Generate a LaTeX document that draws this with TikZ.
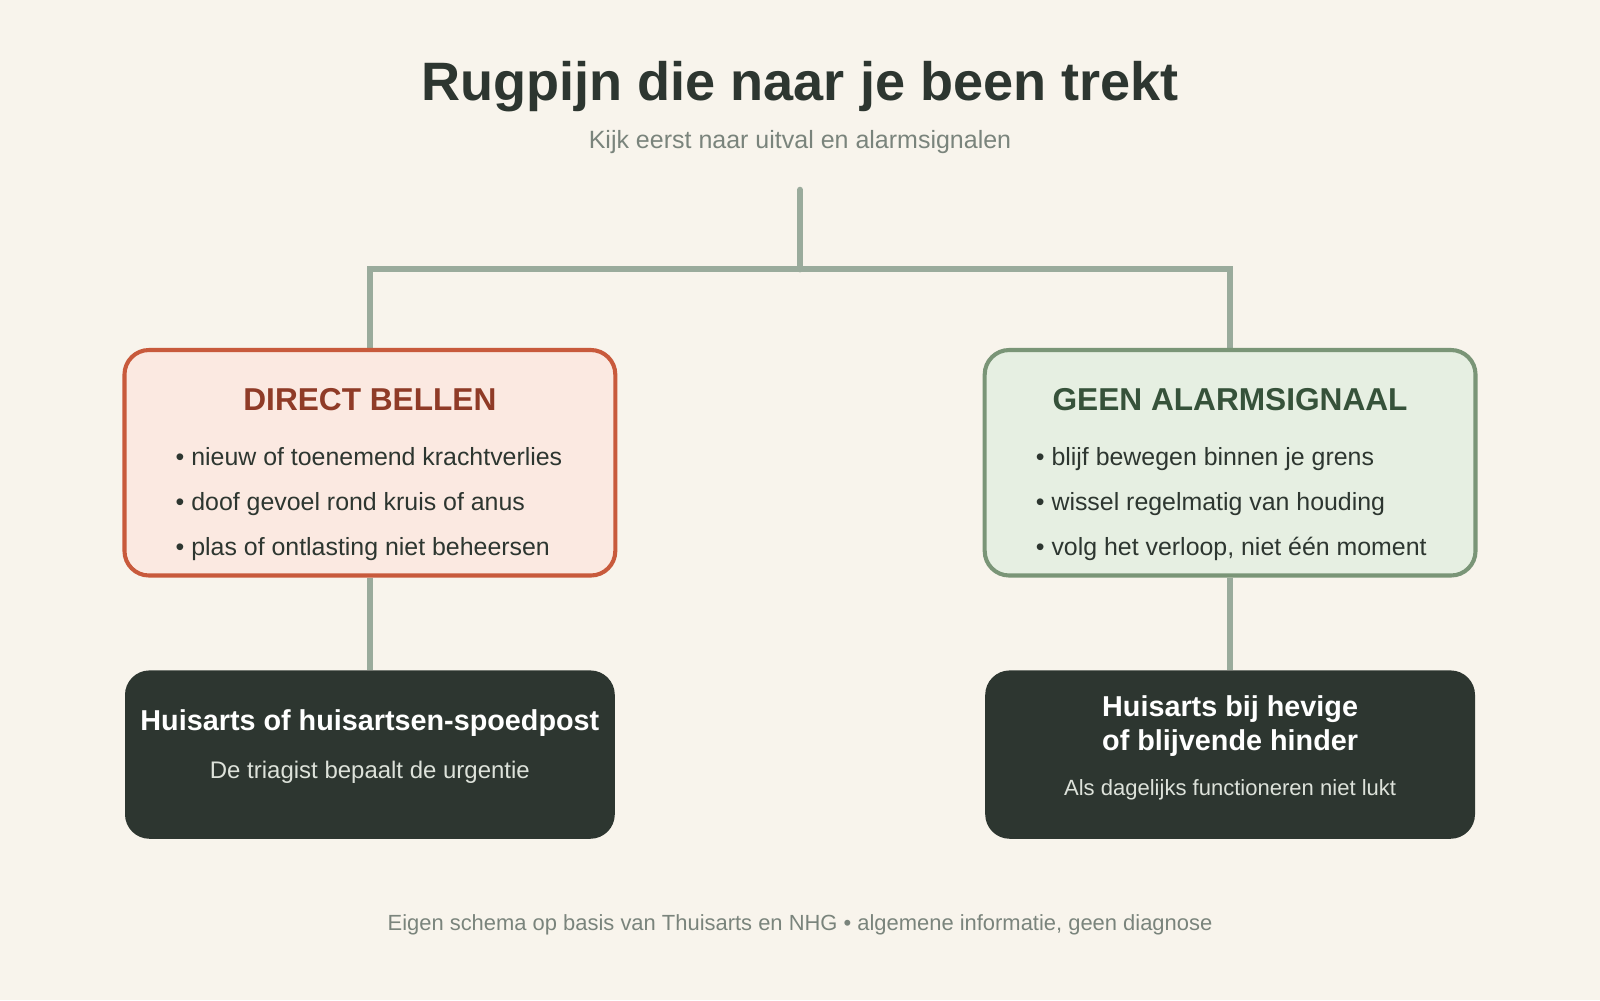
\documentclass[tikz,border=0pt]{standalone}
\usepackage{fontspec}
\setmainfont{Liberation Sans}
\definecolor{bg}{HTML}{F8F4EC}
\definecolor{ink}{HTML}{2D3630}
\definecolor{muted}{HTML}{7A847C}
\definecolor{conncol}{HTML}{9AAB9C}
\definecolor{redfill}{HTML}{FBE9E1}
\definecolor{redline}{HTML}{C85A3C}
\definecolor{redhead}{HTML}{8F3B27}
\definecolor{greenfill}{HTML}{E6EFE2}
\definecolor{greenline}{HTML}{7A9577}
\definecolor{greenhead}{HTML}{36523A}
\definecolor{lighttext}{HTML}{DDE2DA}
\newcommand{\fsz}[1]{\fontsize{#1}{#1}\selectfont}
\pgfdeclarelayer{paper}
\pgfdeclarelayer{links}
\pgfsetlayers{paper,links,main}
\begin{document}
\begin{tikzpicture}[x=1pt,y=-1pt,
  conn/.style={draw=conncol,line width=6pt,line join=miter},
  catbox/.style={rounded corners=24pt,line width=4pt,minimum width=481pt,minimum height=221pt,inner sep=0pt},
  redbox/.style={catbox,draw=redline,fill=redfill},
  greenbox/.style={catbox,draw=greenline,fill=greenfill},
  darkbox/.style={rounded corners=24pt,fill=ink,minimum width=480pt,minimum height=165pt,inner sep=0pt},
  boxhead/.style={font=\fsz{31}\bfseries,inner sep=0pt,anchor=base},
  bullet/.style={font=\fsz{24.4},text=ink,anchor=base west,inner sep=0pt},
  darkhead/.style={font=\fsz{28.2}\bfseries,text=white,inner sep=0pt,anchor=base},
  darksub/.style={text=lighttext,inner sep=0pt,anchor=base},
  note/.style={text=muted,inner sep=0pt,anchor=base}
]
\begin{pgfonlayer}{paper}
\useasboundingbox[fill=bg] (0,0) rectangle (1568,980);
\end{pgfonlayer}

% title
\node[font=\fsz{53}\bfseries,text=ink,inner sep=0pt,anchor=base] (title) at (784,98) {Rugpijn die naar je been trekt};
\node[note,font=\fsz{24.5}] (subtitle) at (784,146) {Kijk eerst naar uitval en alarmsignalen};

% anchor points
\coordinate (top) at (784,186);
\coordinate (split) at (784,264);

% boxes
\node[redbox] (red) at (362.5,453.5) {};
\node[greenbox] (green) at (1205.5,453.5) {};
\node[darkbox] (dl) at (362.5,739.5) {};
\node[darkbox] (dr) at (1205.5,739.5) {};

% connectors (behind boxes)
\begin{pgfonlayer}{links}
\draw[conn,line cap=round] (top) -- (split);
\draw[conn] (red.north) |- (split) -| (green.north);
\draw[conn] (red.south) -- (dl.north);
\draw[conn] (green.south) -- (dr.north);
\end{pgfonlayer}

% red box text
\node[boxhead,text=redhead] (redh) at (362.5,402) {DIRECT BELLEN};
\node[bullet] (r1) at (172,456) {• nieuw of toenemend krachtverlies};
\node[bullet] (r2) at (172,500) {• doof gevoel rond kruis of anus};
\node[bullet] (r3) at (172,544) {• plas of ontlasting niet beheersen};

% green box text
\node[boxhead,text=greenhead] (greenh) at (1205.5,402) {GEEN ALARMSIGNAAL};
\node[bullet] (g1) at (1015,456) {• blijf bewegen binnen je grens};
\node[bullet] (g2) at (1015,500) {• wissel regelmatig van houding};
\node[bullet] (g3) at (1015,544) {• volg het verloop, niet één moment};

% dark boxes text
\node[darkhead] (dlh) at (362.5,716) {Huisarts of huisartsen-spoedpost};
\node[darksub,font=\fsz{23.5}] (dls) at (362.5,763) {De triagist bepaalt de urgentie};
\node[darkhead] (drh1) at (1205.5,702) {Huisarts bij hevige};
\node[darkhead] (drh2) at (1205.5,735) {of blijvende hinder};
\node[darksub,font=\fsz{21.6}] (drs) at (1205.5,780) {Als dagelijks functioneren niet lukt};

% footer
\node[note,font=\fsz{21.5}] (foot) at (784,912) {Eigen schema op basis van Thuisarts en NHG • algemene informatie, geen diagnose};
\end{tikzpicture}
\end{document}
